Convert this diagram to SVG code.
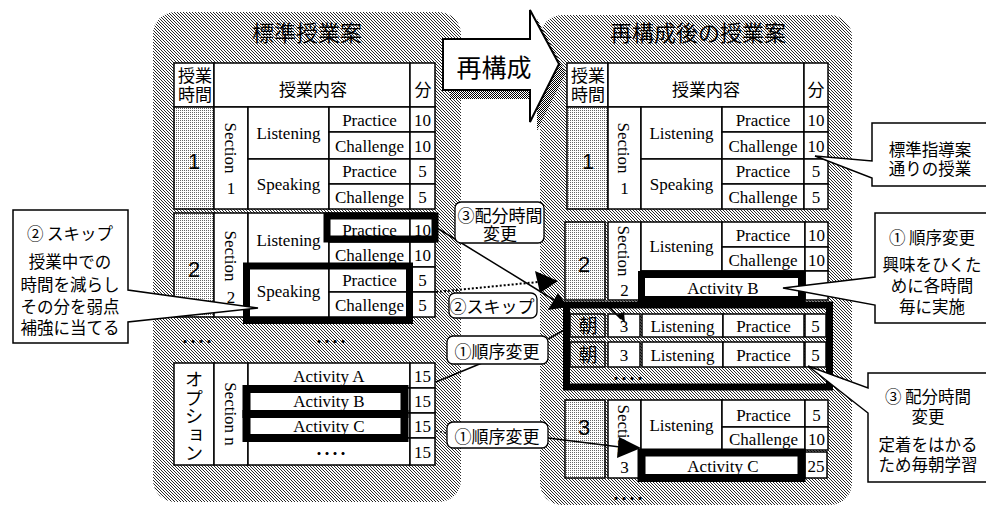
<svg xmlns="http://www.w3.org/2000/svg" width="986" height="508" viewBox="0 0 986 508">
<defs>
<pattern id="hatch" width="3" height="3" patternUnits="userSpaceOnUse"><rect width="3" height="3" fill="#fff"/><path d="M0 0h1v1H0zM1 1h1v1H1zM2 2h1v1H2z" fill="#2a2a2a"/></pattern>
<pattern id="dots" width="2" height="2" patternUnits="userSpaceOnUse"><rect width="2" height="2" fill="#fff"/><rect width="1" height="1" fill="#666"/></pattern>
<pattern id="dark" width="2" height="2" patternUnits="userSpaceOnUse"><rect width="2" height="2" fill="#fff"/><path d="M0 0h1v1H0zM1 1h1v1H1z" fill="#000"/></pattern>
<style>
.c{fill:#fff;stroke:#000;stroke-width:1.5}
.d{fill:url(#dots);stroke:#000;stroke-width:1.5}
.h{fill:url(#hatch);stroke:#000;stroke-width:1.5}
.k{fill:none;stroke:#000;stroke-width:7}
.t{font-family:"Liberation Serif","Noto Sans CJK JP",serif;font-size:17px;text-anchor:middle;fill:#000}
.jh{font-family:"Noto Sans CJK JP",sans-serif;font-size:17px;text-anchor:middle;fill:#000}
.big{font-family:"Liberation Sans",sans-serif;font-size:22px;text-anchor:middle;fill:#000}
.cj{font-family:"Noto Sans CJK JP",sans-serif;font-size:16.5px;text-anchor:middle;fill:#000}
.ti{font-family:"Noto Sans CJK JP",sans-serif;font-size:22px;text-anchor:middle;fill:#000}
.dt{font-family:"Noto Sans CJK JP",sans-serif;font-size:12px;font-weight:bold;letter-spacing:-4px;text-anchor:middle;fill:#000}
.co{fill:#fff;stroke:#000;stroke-width:1.5}
.lb{fill:#fff;stroke:#000;stroke-width:1.3}
.ln{fill:none;stroke:#000;stroke-width:1.5}
</style>
</defs>
<rect width="986" height="508" fill="#fff"/>

<g id="panel-left">
<rect x="153" y="12" width="308" height="490" rx="22" fill="url(#hatch)"/>
<text class="ti" x="307" y="41">標準授業案</text>
</g>
<g id="panel-right">
<rect x="540" y="15" width="312" height="490" rx="22" fill="url(#hatch)"/>
<text class="ti" x="698" y="41">再構成後の授業案</text>
</g>

<g id="left-header">
<rect class="c" x="174" y="63" width="40" height="44"/>
<rect class="c" x="214" y="63" width="196" height="44"/>
<rect class="c" x="410" y="63" width="25" height="44"/>
<text class="jh" x="195" y="82">授業<tspan x="195" dy="19">時間</tspan></text>
<text class="jh" x="313" y="96">授業内容</text>
<text class="jh" x="423" y="96">分</text>
</g>

<g id="left-block-1">
<rect class="d" x="174" y="107" width="40" height="102"/>
<rect class="c" x="214" y="107" width="34" height="102"/>
<rect class="c" x="248" y="107" width="81" height="52"/>
<rect class="c" x="248" y="159" width="81" height="50"/>
<rect class="c" x="329" y="107" width="81" height="25"/>
<rect class="c" x="329" y="132" width="81" height="27"/>
<rect class="c" x="329" y="159" width="81" height="25"/>
<rect class="c" x="329" y="184" width="81" height="25"/>
<rect class="c" x="410" y="107" width="25" height="25"/>
<rect class="c" x="410" y="132" width="25" height="27"/>
<rect class="c" x="410" y="159" width="25" height="25"/>
<rect class="c" x="410" y="184" width="25" height="25"/>
<text class="big" x="194" y="169">1</text>
<text class="t" transform="translate(225,148) rotate(90)">Section</text>
<text class="t" x="231" y="194">1</text>
<text class="t" x="288.5" y="139">Listening</text>
<text class="t" x="288.5" y="190">Speaking</text>
<text class="t" x="369.5" y="126">Practice</text>
<text class="t" x="369.5" y="152">Challenge</text>
<text class="t" x="369.5" y="177">Practice</text>
<text class="t" x="369.5" y="203">Challenge</text>
<text class="t" x="422.5" y="126">10</text>
<text class="t" x="422.5" y="152">10</text>
<text class="t" x="422.5" y="177">5</text>
<text class="t" x="422.5" y="203">5</text>
</g>

<g id="left-block-2">
<rect class="d" x="174" y="213" width="40" height="104"/>
<rect class="c" x="214" y="213" width="34" height="104"/>
<rect class="c" x="248" y="213" width="81" height="54"/>
<rect class="c" x="248" y="267" width="81" height="50"/>
<rect class="c" x="329" y="213" width="81" height="29"/>
<rect class="c" x="329" y="242" width="81" height="25"/>
<rect class="c" x="329" y="267" width="81" height="25"/>
<rect class="c" x="329" y="292" width="81" height="25"/>
<rect class="c" x="410" y="213" width="25" height="29"/>
<rect class="c" x="410" y="242" width="25" height="25"/>
<rect class="c" x="410" y="267" width="25" height="25"/>
<rect class="c" x="410" y="292" width="25" height="25"/>
<text class="big" x="194" y="277">2</text>
<text class="t" transform="translate(225,256) rotate(90)">Section</text>
<text class="t" x="231" y="303">2</text>
<text class="t" x="288.5" y="246">Listening</text>
<text class="t" x="288.5" y="297">Speaking</text>
<text class="t" x="369.5" y="236">Practice</text>
<text class="t" x="369.5" y="261">Challenge</text>
<text class="t" x="369.5" y="286">Practice</text>
<text class="t" x="369.5" y="311">Challenge</text>
<text class="t" x="422.5" y="236">10</text>
<text class="t" x="422.5" y="261">10</text>
<text class="t" x="422.5" y="286">5</text>
<text class="t" x="422.5" y="311">5</text>
<rect class="k" x="327" y="216" width="108" height="23"/>
<rect class="k" x="246.5" y="266" width="163" height="54.5"/>
</g>

<g id="left-ellipsis">
<text class="dt" x="195" y="347">・・・・</text>
<text class="dt" x="329" y="347">・・・・</text>
</g>

<g id="left-option">
<rect class="c" x="174" y="363" width="40" height="102"/>
<rect class="c" x="214" y="363" width="34" height="102"/>
<rect class="c" x="248" y="363" width="162" height="25"/>
<rect class="c" x="248" y="388" width="162" height="25"/>
<rect class="c" x="248" y="413" width="162" height="25"/>
<rect class="c" x="248" y="438" width="162" height="27"/>
<rect class="c" x="410" y="363" width="25" height="25"/>
<rect class="c" x="410" y="388" width="25" height="25"/>
<rect class="c" x="410" y="413" width="25" height="25"/>
<rect class="c" x="410" y="438" width="25" height="27"/>
<text class="jh" x="194" y="370" style="font-size:18.5px;writing-mode:vertical-rl;text-anchor:start">オプション</text>
<text class="t" transform="translate(225,414) rotate(90)">Section n</text>
<text class="t" x="329" y="382">Activity A</text>
<text class="t" x="329" y="407">Activity B</text>
<text class="t" x="329" y="432">Activity C</text>
<text class="dt" x="329" y="459">・・・・</text>
<text class="t" x="422.5" y="382">15</text>
<text class="t" x="422.5" y="407">15</text>
<text class="t" x="422.5" y="432">15</text>
<text class="t" x="422.5" y="458">15</text>
<rect class="k" x="246.5" y="389" width="158" height="25" style="stroke-width:8"/>
<rect class="k" x="246.5" y="414" width="158" height="24" style="stroke-width:8"/>
</g>

<g id="right-header">
<rect class="c" x="567" y="63" width="41" height="44"/>
<rect class="c" x="608" y="63" width="196" height="44"/>
<rect class="c" x="804" y="63" width="24" height="44"/>
<text class="jh" x="588" y="82">授業<tspan x="588" dy="19">時間</tspan></text>
<text class="jh" x="706" y="96">授業内容</text>
<text class="jh" x="816" y="96">分</text>
</g>

<g id="right-block-1">
<rect class="d" x="567" y="107" width="41" height="102"/>
<rect class="c" x="608" y="107" width="33" height="102"/>
<rect class="c" x="641" y="107" width="81" height="52"/>
<rect class="c" x="641" y="159" width="81" height="50"/>
<rect class="c" x="722" y="107" width="82" height="25"/>
<rect class="c" x="722" y="132" width="82" height="27"/>
<rect class="c" x="722" y="159" width="82" height="25"/>
<rect class="c" x="722" y="184" width="82" height="25"/>
<rect class="c" x="804" y="107" width="24" height="25"/>
<rect class="c" x="804" y="132" width="24" height="27"/>
<rect class="c" x="804" y="159" width="24" height="25"/>
<rect class="c" x="804" y="184" width="24" height="25"/>
<text class="big" x="588" y="169">1</text>
<text class="t" transform="translate(618,148) rotate(90)">Section</text>
<text class="t" x="624.5" y="194">1</text>
<text class="t" x="681.5" y="139">Listening</text>
<text class="t" x="681.5" y="190">Speaking</text>
<text class="t" x="763" y="126">Practice</text>
<text class="t" x="763" y="152">Challenge</text>
<text class="t" x="763" y="177">Practice</text>
<text class="t" x="763" y="203">Challenge</text>
<text class="t" x="816" y="126">10</text>
<text class="t" x="816" y="152">10</text>
<text class="t" x="816" y="177">5</text>
<text class="t" x="816" y="203">5</text>
</g>

<g id="right-block-2">
<rect class="d" x="565" y="222" width="40" height="78"/>
<rect class="c" x="608" y="222" width="33" height="78"/>
<rect class="c" x="641" y="222" width="81" height="49"/>
<rect class="c" x="722" y="222" width="83" height="25"/>
<rect class="c" x="722" y="247" width="83" height="24"/>
<rect class="c" x="805" y="222" width="23" height="25"/>
<rect class="c" x="805" y="247" width="23" height="24"/>
<rect class="c" x="805" y="271" width="23" height="29"/>
<rect class="c" x="641" y="271" width="164" height="29"/>
<text class="big" x="584" y="272">2</text>
<text class="t" transform="translate(618,251) rotate(90)">Section</text>
<text class="t" x="624.5" y="296">2</text>
<text class="t" x="681.5" y="252">Listening</text>
<text class="t" x="763" y="241">Practice</text>
<text class="t" x="763" y="266">Challenge</text>
<text class="t" x="816.5" y="241">10</text>
<text class="t" x="816.5" y="266">10</text>
<rect class="k" x="641.5" y="274.5" width="160" height="25"/>
<text class="t" x="723" y="294">Activity B</text>
</g>

<g id="right-morning">
<rect class="h" x="570" y="314" width="35" height="23"/>
<rect class="c" x="608" y="314" width="32" height="23"/>
<rect class="c" x="642" y="314" width="81" height="23"/>
<rect class="c" x="723" y="314" width="81" height="23"/>
<rect class="c" x="805" y="314" width="21" height="23"/>
<rect class="h" x="570" y="342" width="35" height="25"/>
<rect class="c" x="608" y="342" width="32" height="25"/>
<rect class="c" x="642" y="342" width="81" height="25"/>
<rect class="c" x="723" y="342" width="81" height="25"/>
<rect class="c" x="805" y="342" width="21" height="25"/>
<text class="jh" x="588" y="333" style="font-size:19px">朝</text>
<text class="jh" x="588" y="362" style="font-size:19px">朝</text>
<text class="t" x="624" y="332">3</text>
<text class="t" x="624" y="361">3</text>
<text class="t" x="682.5" y="332">Listening</text>
<text class="t" x="682.5" y="361">Listening</text>
<text class="t" x="763.5" y="332">Practice</text>
<text class="t" x="763.5" y="361">Practice</text>
<text class="t" x="815.5" y="332">5</text>
<text class="t" x="815.5" y="361">5</text>
<text class="dt" x="626" y="384">・・・・</text>
<rect class="k" x="566.5" y="305" width="263" height="82"/>
</g>

<g id="right-block-3">
<rect class="d" x="565" y="400" width="40" height="78"/>
<rect class="c" x="608" y="400" width="33" height="78"/>
<rect class="c" x="641" y="400" width="81" height="50"/>
<rect class="c" x="722" y="400" width="83" height="27"/>
<rect class="c" x="722" y="427" width="83" height="23"/>
<rect class="c" x="805" y="400" width="23" height="27"/>
<rect class="c" x="805" y="427" width="23" height="23"/>
<rect class="c" x="641" y="450" width="164" height="28"/>
<rect class="c" x="805" y="452" width="22" height="26"/>
<text class="big" x="584" y="435">3</text>
<text class="t" transform="translate(618,430) rotate(90)">Section</text>
<text class="t" x="624.5" y="473">3</text>
<text class="t" x="681.5" y="431">Listening</text>
<text class="t" x="763.5" y="421">Practice</text>
<text class="t" x="763.5" y="445">Challenge</text>
<text class="t" x="816.5" y="421">5</text>
<text class="t" x="816.5" y="445">10</text>
<rect class="k" x="641.5" y="452.5" width="160" height="25.5" style="stroke-width:8"/>
<text class="t" x="723" y="472">Activity C</text>
<text class="t" x="816" y="472">25</text>
<text class="dt" x="626" y="504">・・・・</text>
</g>

<g id="reconstruct-arrow">
<polygon points="450,48 537,48 537,19 566,73 537,131 537,99 450,99" fill="url(#dark)"/>
<polygon points="443,39 530,39 530,10 559,64 530,122 530,90 443,90" fill="#fff" stroke="#000" stroke-width="2"/>
<text class="ti" x="494" y="77" style="font-size:25px">再構成</text>
</g>

<g id="connectors">
<line class="ln" x1="437" y1="228" x2="554" y2="300"/>
<polygon points="558,293 548,310 568,307" fill="#000"/>
<line class="ln" x1="608" y1="306" x2="621" y2="319"/>
<polygon points="617,315 625,323 624,312" fill="#000"/>
<line x1="436" y1="292" x2="538" y2="282" stroke="#000" stroke-width="2" stroke-dasharray="2 2"/>
<polygon points="535,271 558,281 540,293" fill="#000"/>
<line class="ln" x1="436" y1="382" x2="482" y2="363"/>
<line class="ln" x1="548" y1="339" x2="568" y2="328"/>
<line x1="436" y1="431" x2="447" y2="433" stroke="#000" stroke-width="1.5" stroke-dasharray="2 2"/>
<line class="ln" x1="548" y1="438" x2="620" y2="447"/>
<polygon points="619,437 641,448 617,458" fill="#000"/>
</g>

<g id="label-realloc">
<rect class="lb" x="455" y="202" width="89" height="41" rx="6"/>
<text class="cj" x="500" y="222" style="font-size:17px">③配分時間<tspan x="500" dy="18">変更</tspan></text>
</g>
<g id="label-skip">
<rect class="lb" x="449" y="293" width="88" height="25" rx="6"/>
<text class="cj" x="492" y="313" style="font-size:17px">②スキップ</text>
</g>
<g id="label-order-1">
<rect class="lb" x="447" y="336" width="101" height="28" rx="6"/>
<text class="cj" x="497" y="358" style="font-size:17px">①順序変更</text>
</g>
<g id="label-order-2">
<rect class="lb" x="447" y="422" width="101" height="26" rx="6"/>
<text class="cj" x="497" y="443" style="font-size:17px">①順序変更</text>
</g>

<g id="callout-skip">
<polygon class="co" points="13,210 128,210 128,290 258,308 128,322 128,343 13,343"/>
<text class="cj" x="70" y="240">② スキップ</text>
<text class="cj" x="70" y="268">授業中での<tspan x="70" dy="23">時間を減らし</tspan><tspan x="70" dy="22">その分を弱点</tspan><tspan x="70" dy="21">補強に当てる</tspan></text>
</g>
<g id="callout-standard">
<polygon class="co" points="872,123 992,123 992,186 872,186 872,178 815,156 872,161"/>
<text class="cj" x="930" y="156">標準指導案<tspan x="930" dy="19">通りの授業</tspan></text>
</g>
<g id="callout-order">
<polygon class="co" points="875,213 992,213 992,323 875,323 875,305 783,288 875,277"/>
<text class="cj" x="932" y="244">① 順序変更</text>
<text class="cj" x="932" y="271">興味をひくた<tspan x="932" dy="21">めに各時間</tspan><tspan x="932" dy="21">毎に実施</tspan></text>
</g>
<g id="callout-realloc">
<polygon class="co" points="868,373 992,373 992,482 868,482 868,413 808,366 868,388"/>
<text class="cj" x="928" y="403">③ 配分時間<tspan x="928" dy="20">変更</tspan></text>
<text class="cj" x="928" y="451">定着をはかる<tspan x="928" dy="20">ため毎朝学習</tspan></text>
</g>
</svg>
